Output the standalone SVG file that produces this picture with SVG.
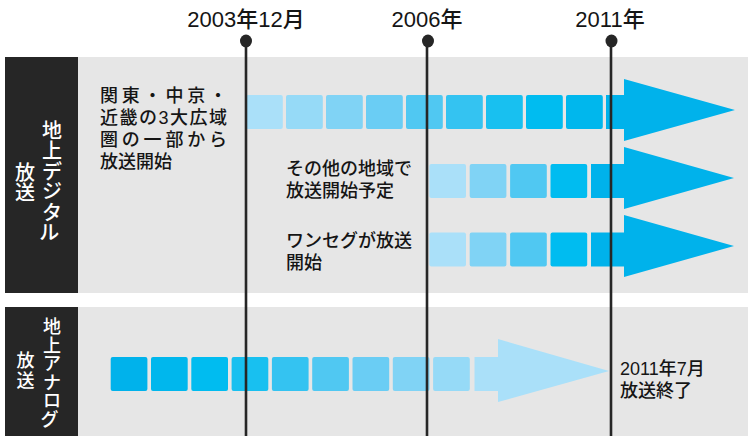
<svg xmlns="http://www.w3.org/2000/svg" width="748" height="436" viewBox="0 0 748 436">
<style>
  text { font-family: "Liberation Sans", "Noto Sans CJK JP", sans-serif; fill: #151515; }
  .yr { font-size: 22px; text-anchor: middle; font-weight: 500; }
  .body { font-size: 18px; font-weight: 500; }
  .side { fill: #ffffff; text-anchor: middle; font-weight: 500; }
  .panel { fill: #e6e6e6; }
  .dark { fill: #262626; }
  .tl { stroke: #262626; stroke-width: 2.6; fill: none; }
  .pin { fill: #262626; }
  .c1 { fill: #aae0f9; } .c2 { fill: #96daf7; } .c3 { fill: #80d3f5; }
  .c4 { fill: #6acdf4; } .c5 { fill: #50c8f2; } .c6 { fill: #34c3f1; }
  .c7 { fill: #18c0f0; } .c8 { fill: #00bcf0; } .c9 { fill: #00b7ed; }
  .c10 { fill: #00b2eb; }
</style>
<rect width="748" height="436" fill="#ffffff"/>

<g id="panel-digital">
  <rect class="panel" x="78" y="57" width="670" height="236"/>
  <rect class="dark" x="5" y="57" width="73" height="236"/>
  <text class="side" font-size="20">
    <tspan x="52" y="137.5">地</tspan><tspan x="52" y="158">上</tspan><tspan x="52" y="178.5">デ</tspan><tspan x="52" y="199">ジ</tspan><tspan x="52" y="219.5">タ</tspan><tspan x="52" y="240">ル</tspan>
    <tspan x="25" y="179.5">放</tspan><tspan x="25" y="200">送</tspan>
  </text>
</g>

<g id="panel-analog">
  <rect class="panel" x="78" y="307" width="670" height="129"/>
  <rect class="dark" x="5" y="307" width="73" height="129"/>
  <text class="side" font-size="18">
    <tspan x="52" y="333">地</tspan><tspan x="52" y="351.5">上</tspan><tspan x="52" y="370">ア</tspan><tspan x="52" y="388.5">ナ</tspan><tspan x="52" y="407">ロ</tspan><tspan x="52" y="425.5">グ</tspan>
    <tspan x="25.5" y="367">放</tspan><tspan x="25.5" y="386.5">送</tspan>
  </text>
</g>

<g id="arrow-main">
  <rect class="c1" x="246" y="95" width="36.8" height="34" rx="2"/>
  <rect class="c2" x="286" y="95" width="36.8" height="34" rx="2"/>
  <rect class="c3" x="326" y="95" width="36.8" height="34" rx="2"/>
  <rect class="c4" x="366" y="95" width="36.8" height="34" rx="2"/>
  <rect class="c5" x="406" y="95" width="36.8" height="34" rx="2"/>
  <rect class="c6" x="446" y="95" width="36.8" height="34" rx="2"/>
  <rect class="c7" x="486" y="95" width="36.8" height="34" rx="2"/>
  <rect class="c8" x="526" y="95" width="36.8" height="34" rx="2"/>
  <rect class="c9" x="566" y="95" width="36.8" height="34" rx="2"/>
  <path class="c10" d="M606,95 H624 V79 L735,110 L624,141 V129 H606 Z"/>
  <text class="body"><tspan x="100" y="102" textLength="127" lengthAdjust="spacing">関東・中京・</tspan></text>
  <text class="body"><tspan x="100" y="124" textLength="127" lengthAdjust="spacing">近畿の3大広域</tspan></text>
  <text class="body"><tspan x="100" y="146" textLength="127" lengthAdjust="spacing">圏の一部から</tspan></text>
  <text class="body"><tspan x="100" y="168">放送開始</tspan></text>
</g>

<g id="arrow-other">
  <rect class="c1" x="429.3" y="164" width="36.7" height="34" rx="2"/>
  <rect class="c3" x="469.7" y="164" width="36.7" height="34" rx="2"/>
  <rect class="c5" x="510.1" y="164" width="36.7" height="34" rx="2"/>
  <rect class="c8" x="550.5" y="164" width="36.7" height="34" rx="2"/>
  <path class="c10" d="M591,164 H624 V147 L734,178 L624,209 V198 H591 Z"/>
  <text class="body"><tspan x="286" y="175">その他の地域で</tspan><tspan x="286" y="197">放送開始予定</tspan></text>
</g>

<g id="arrow-oneseg">
  <rect class="c1" x="429.3" y="232.5" width="36.7" height="34" rx="2"/>
  <rect class="c3" x="469.7" y="232.5" width="36.7" height="34" rx="2"/>
  <rect class="c5" x="510.1" y="232.5" width="36.7" height="34" rx="2"/>
  <rect class="c8" x="550.5" y="232.5" width="36.7" height="34" rx="2"/>
  <path class="c10" d="M591,232.5 H624 V215 L734,246 L624,277 V266.5 H591 Z"/>
  <text class="body"><tspan x="286" y="247">ワンセグが放送</tspan><tspan x="286" y="269">開始</tspan></text>
</g>

<g id="arrow-analog">
  <rect class="c10" x="110.7" y="357" width="36.7" height="34" rx="2"/>
  <rect class="c9" x="151" y="357" width="36.7" height="34" rx="2"/>
  <rect class="c8" x="191.3" y="357" width="36.7" height="34" rx="2"/>
  <rect class="c7" x="231.6" y="357" width="36.7" height="34" rx="2"/>
  <rect class="c6" x="271.9" y="357" width="36.7" height="34" rx="2"/>
  <rect class="c5" x="312.2" y="357" width="36.7" height="34" rx="2"/>
  <rect class="c4" x="352.5" y="357" width="36.7" height="34" rx="2"/>
  <rect class="c3" x="392.8" y="357" width="36.7" height="34" rx="2"/>
  <rect class="c2" x="433.1" y="357" width="36.7" height="34" rx="2"/>
  <path class="c1" d="M474.5,357 H498 V339 L609,371 L498,402 V391 H474.5 Z"/>
  <text class="body"><tspan x="620" y="375">2011年7月</tspan><tspan x="620" y="397">放送終了</tspan></text>
</g>

<g id="connectors">
  <line class="tl" x1="246" y1="41" x2="246" y2="436"/>
  <line class="tl" x1="427" y1="41" x2="427" y2="436"/>
  <line class="tl" x1="611" y1="41" x2="611" y2="436"/>
</g>

<g id="milestone-2003">
  <ellipse class="pin" cx="246" cy="41" rx="6" ry="6.5"/>
  <text class="yr" x="246" y="27">2003年12月</text>
</g>
<g id="milestone-2006">
  <ellipse class="pin" cx="428" cy="41" rx="6" ry="6.5"/>
  <text class="yr" x="427" y="27">2006年</text>
</g>
<g id="milestone-2011">
  <ellipse class="pin" cx="611.5" cy="41" rx="6" ry="6.5"/>
  <text class="yr" x="610" y="27">2011年</text>
</g>
</svg>
